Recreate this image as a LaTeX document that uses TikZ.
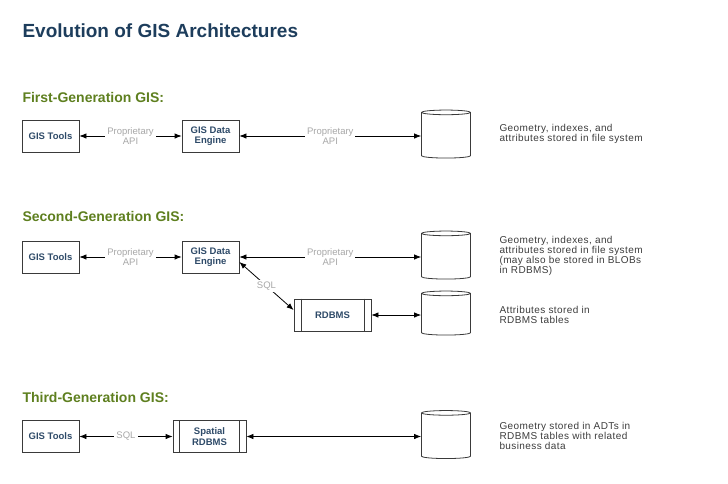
\documentclass[tikz,border=0pt]{standalone}
\usepackage{fontspec}
\setmainfont{Liberation Sans}
\usetikzlibrary{arrows.meta,shapes.geometric}
\definecolor{titleblue}{HTML}{1D3D5C}
\definecolor{headgreen}{HTML}{5E7F1F}
\definecolor{boxtext}{HTML}{2E4A68}
\definecolor{boxline}{HTML}{3A3A3A}
\definecolor{lblgray}{HTML}{A8A8A8}
\definecolor{notegray}{HTML}{3C3C3C}
\tikzset{
	comp/.style={draw=boxline, line width=0.8pt, minimum width=57pt, minimum height=32pt,
		align=center, inner sep=1pt, text=boxtext, font=\fontsize{9.5}{10.5}\selectfont\bfseries},
	db/.style={cylinder, shape border rotate=90, draw=boxline, line width=0.8pt,
		aspect=0.7, minimum width=49pt, minimum height=48pt},
	link/.style={{Latex[length=7pt,width=5.5pt]}-{Latex[length=7pt,width=5.5pt]}, line width=0.8pt},
	lbl/.style={fill=white, text=lblgray, align=center, inner sep=2pt,
		font=\fontsize{9.5}{9.5}\selectfont},
	note/.style={anchor=west, align=left, text=notegray,
		font=\fontsize{10}{10.2}\selectfont\addfontfeatures{LetterSpace=4}},
	head/.style={anchor=west, text=headgreen, font=\fontsize{14}{16}\selectfont\bfseries},
}
\begin{document}
\begin{tikzpicture}[x=1pt,y=-1pt]
	\useasboundingbox (0,0) rectangle (728,483);
	\node[anchor=west, text=titleblue, font=\fontsize{19}{21}\selectfont\bfseries] (title) at (19,31) {Evolution of GIS Architectures};
	% first generation
	\node[head] (h1) at (19,97) {First-Generation GIS:};
	\node[comp] (t1) at (50.5,136) {GIS Tools};
	\node[comp] (e1) at (210.5,136) {GIS Data\\Engine};
	\node[db] (d1) at (446,136) {};
	\node[note] (n1) at (496,134) {Geometry, indexes, and\\attributes stored in file system};
	\draw[link] (t1) --node[lbl]{Proprietary\\API} (e1);
	\draw[link] (e1) --node[lbl]{Proprietary\\API} (d1);
	% second generation
	\node[head] (h2) at (19,216) {Second-Generation GIS:};
	\node[comp] (t2) at (50.5,257) {GIS Tools};
	\node[comp] (e2) at (210.5,257) {GIS Data\\Engine};
	\node[db] (d2) at (446,257) {};
	\node[comp, minimum width=77pt] (r2) at (332.5,315) {RDBMS};
	\draw[boxline, line width=0.8pt] ([xshift=8pt]r2.north west) -- ([xshift=8pt]r2.south west)
		([xshift=-7pt]r2.north east) -- ([xshift=-7pt]r2.south east);
	\node[db, minimum height=44pt] (d3) at (446,315) {};
	\node[note] (n2) at (496,256) {Geometry, indexes, and\\attributes stored in file system\\(may also be stored in BLOBs\\in RDBMS)};
	\node[note] (n3) at (496,315) {Attributes stored in\\RDBMS tables};
	\draw[link] (t2) --node[lbl]{Proprietary\\API} (e2);
	\draw[link] (e2) --node[lbl]{Proprietary\\API} (d2);
	\draw[link] ([yshift=-5pt]e2.east) --node[lbl]{SQL} ([yshift=5pt]r2.west);
	\draw[link] (r2) -- (d3);
	% third generation
	\node[head] (h3) at (19,397) {Third-Generation GIS:};
	\node[comp] (t3) at (50.5,436.5) {GIS Tools};
	\node[comp, minimum width=73pt] (r3) at (209.5,436.5) {Spatial\\RDBMS};
	\draw[boxline, line width=0.8pt] ([xshift=7pt]r3.north west) -- ([xshift=7pt]r3.south west)
		([xshift=-7pt]r3.north east) -- ([xshift=-7pt]r3.south east);
	\node[db] (d4) at (446,436.5) {};
	\node[note] (n4) at (496,436) {Geometry stored in ADTs in\\RDBMS tables with related\\business data};
	\draw[link] (t3) --node[lbl]{SQL} (r3);
	\draw[link] (r3) -- (d4);
\end{tikzpicture}
\end{document}
